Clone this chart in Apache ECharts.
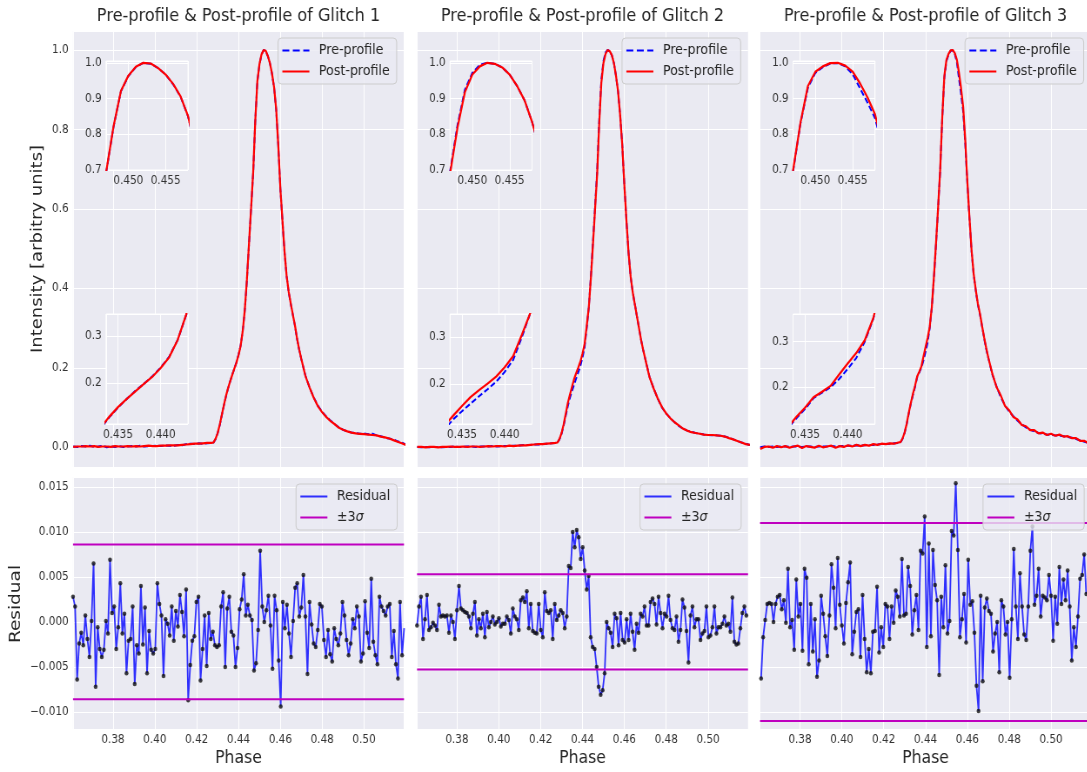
<!DOCTYPE html>
<html>
<head>
<meta charset="utf-8">
<script src="https://cdn.jsdelivr.net/npm/echarts@6/dist/echarts.min.js"></script>
<style>
  html, body { margin: 0; padding: 0; background: #fff; overflow: hidden; }
  #main { height: 772px; transform-origin: 0 0; }
</style>
</head>
<body>
<div id="main"></div>
<script>
'use strict';

// the original figure is squeezed horizontally, so we draw wider and scale
var S = 0.87;
function X(px) { return px / S; }

var BG = '#EAEAF2';
var FONT = 'DejaVu Sans';
var TXT = '#262626';
var MAG = '#bf00bf';

var TITLES = [
  'Pre-profile & Post-profile of Glitch 1',
  'Pre-profile & Post-profile of Glitch 2',
  'Pre-profile & Post-profile of Glitch 3'
];
var PANEL_LEFT = [73, 417, 760];
var PANEL_W = 331;

var X_RANGE = [0.3609, 0.5191];
var Y_TOP_RANGE = [-0.0496, 1.0478];
var Y_RES_RANGE = [-0.0119, 0.0161];
var INSET_HI_X = [0.447, 0.458];
var INSET_HI_Y = [0.7, 1.005];
var INSET_LO_X = [0.4336, 0.4432];
var INSET_LO_Y = [[0.1133, 0.3465], [0.1146, 0.3499], [0.1193, 0.3607]];

// phases where the profiles were read: coarse on the baseline, fine over the pulse
var PROF_PHASE = [].concat(steps(0.361, 0.427, 0.002), steps(0.428, 0.470, 0.001), steps(0.472, 0.520, 0.002));

var pre1 = [
  0.002,0.001,0.003,0.002,0.004,0.001,0.002,0.004,0.000,0.002,0.001,0.003,0.001,0.002,0.003,0.002,0.004,0.002,0.003,0.003,0.004,0.003,0.005,0.004,0.004,0.006,0.005,0.008,0.009,0.008,0.010,0.009,0.010,0.011,
  0.012,0.020,0.035,0.055,0.080,0.105,0.128,0.148,0.166,0.183,0.198,0.214,0.233,0.256,0.292,0.345,0.420,0.510,0.600,0.690,0.820,0.920,0.963,0.988,1.000,0.997,0.985,0.967,0.940,0.905,0.850,0.760,0.650,0.570,0.490,0.430,0.390,0.360,0.332,0.305,0.272,0.245,0.222,
  0.180,0.150,0.125,0.104,0.089,0.077,0.067,0.058,0.050,0.044,0.040,0.037,0.036,0.034,0.035,0.033,0.034,0.030,0.028,0.024,0.022,0.020,0.015,0.012,0.007
];
var post1 = [
  0.001,0.002,0.002,0.003,0.002,0.003,0.001,0.002,0.002,0.001,0.003,0.002,0.002,0.003,0.002,0.003,0.002,0.003,0.004,0.003,0.003,0.004,0.004,0.005,0.005,0.005,0.006,0.007,0.008,0.009,0.009,0.010,0.011,0.011,
  0.012,0.021,0.035,0.056,0.081,0.106,0.129,0.149,0.166,0.182,0.198,0.213,0.232,0.255,0.292,0.346,0.422,0.512,0.601,0.692,0.821,0.921,0.964,0.989,1.000,0.998,0.985,0.967,0.941,0.906,0.851,0.761,0.652,0.571,0.492,0.431,0.391,0.361,0.333,0.306,0.273,0.246,0.223,
  0.179,0.150,0.124,0.103,0.088,0.076,0.066,0.058,0.049,0.044,0.040,0.037,0.035,0.034,0.033,0.032,0.031,0.030,0.027,0.025,0.022,0.018,0.014,0.010,0.006
];
var pre2 = [
  0.001,0.000,0.001,0.000,0.001,0.001,0.000,0.001,0.001,0.002,0.001,0.001,0.002,0.002,0.001,0.002,0.002,0.002,0.003,0.002,0.003,0.003,0.003,0.004,0.004,0.005,0.006,0.006,0.007,0.007,0.008,0.009,0.010,0.011,
  0.012,0.020,0.034,0.055,0.080,0.104,0.125,0.142,0.158,0.174,0.189,0.205,0.226,0.252,0.300,0.352,0.430,0.518,0.607,0.695,0.825,0.925,0.972,0.994,1.000,0.997,0.987,0.967,0.935,0.895,0.835,0.760,0.660,0.570,0.490,0.430,0.390,0.360,0.330,0.300,0.270,0.245,0.222,
  0.178,0.148,0.122,0.100,0.085,0.073,0.063,0.054,0.047,0.042,0.039,0.036,0.034,0.032,0.031,0.030,0.030,0.029,0.027,0.024,0.020,0.016,0.012,0.009,0.006
];
var post2 = [
  0.001,0.001,0.000,0.001,0.001,0.000,0.001,0.001,0.002,0.001,0.001,0.002,0.001,0.002,0.002,0.001,0.002,0.003,0.002,0.003,0.003,0.002,0.004,0.003,0.004,0.005,0.005,0.006,0.007,0.008,0.008,0.009,0.010,0.011,
  0.012,0.021,0.036,0.058,0.085,0.112,0.133,0.153,0.172,0.187,0.201,0.216,0.236,0.260,0.305,0.352,0.426,0.512,0.600,0.689,0.818,0.918,0.967,0.990,1.000,0.997,0.987,0.967,0.935,0.895,0.835,0.760,0.660,0.570,0.490,0.430,0.390,0.360,0.330,0.300,0.270,0.245,0.222,
  0.177,0.148,0.122,0.101,0.085,0.073,0.063,0.055,0.047,0.042,0.038,0.036,0.034,0.032,0.031,0.031,0.030,0.029,0.027,0.023,0.020,0.016,0.012,0.008,0.006
];
var pre3 = [
  0.000,0.002,0.001,0.002,0.001,0.002,0.002,0.001,0.002,0.002,0.001,0.002,0.002,0.001,0.002,0.002,0.002,0.003,0.002,0.003,0.003,0.004,0.004,0.005,0.004,0.005,0.006,0.006,0.007,0.008,0.008,0.009,0.010,0.011,
  0.012,0.021,0.036,0.058,0.085,0.110,0.132,0.152,0.176,0.188,0.200,0.218,0.240,0.264,0.300,0.350,0.425,0.510,0.600,0.695,0.830,0.930,0.972,0.988,0.998,0.999,0.990,0.968,0.928,0.888,0.845,0.765,0.665,0.575,0.495,0.435,0.395,0.360,0.335,0.305,0.275,0.248,0.225,
  0.182,0.152,0.126,0.105,0.090,0.078,0.067,0.058,0.050,0.044,0.040,0.036,0.034,0.032,0.031,0.030,0.029,0.028,0.026,0.024,0.021,0.017,0.014,0.011,0.008
];
var post3 = [
  -0.004,0.001,0.002,-0.001,0.003,0.000,0.003,-0.001,0.002,0.004,-0.002,0.003,0.001,-0.001,0.004,0.000,0.002,0.004,-0.001,0.003,0.001,0.005,0.002,0.006,0.003,0.006,0.004,0.008,0.006,0.009,0.008,0.010,0.009,0.012,
  0.013,0.022,0.037,0.059,0.087,0.112,0.135,0.155,0.178,0.190,0.203,0.228,0.252,0.275,0.303,0.352,0.428,0.512,0.602,0.698,0.832,0.935,0.975,0.990,0.999,1.000,0.992,0.975,0.942,0.903,0.856,0.772,0.668,0.578,0.497,0.437,0.397,0.362,0.337,0.306,0.277,0.250,0.226,
  0.184,0.151,0.130,0.104,0.093,0.076,0.070,0.056,0.053,0.043,0.043,0.035,0.037,0.031,0.034,0.029,0.032,0.027,0.028,0.023,0.023,0.016,0.016,0.010,0.009
];
var PRE = [pre1, pre2, pre3];
var POST = [post1, post2, post3];

// residuals (post - pre), in units of 1e-3, one value per phase bin
var RES_START = [0.3609, 0.3609, 0.3614];
var RES_STEP = [0.000983, 0.000954, 0.00099];
var res1 = [
  2.8,1.7,-6.4,-2.4,-1.2,-2.6,0.7,-1.9,-3.9,0.1,6.5,-7.2,-0.6,-3.0,-3.9,-3.1,0.1,-1.3,6.9,1.0,1.7,-3.0,-0.6,4.3,-1.3,0.9,-5.7,-2.1,-1.9,1.7,
  -6.9,-2.6,-3.5,4.0,-2.5,1.6,-5.7,-1.0,-3.1,-3.5,-3.0,4.3,2.0,0.7,-6.0,0.3,-0.2,-1.5,1.7,-2.1,1.2,-0.5,3.0,1.1,-1.6,3.6,-8.7,-4.8,-2.1,-1.6,
  2.2,2.8,-6.5,-3.0,0.7,-4.9,1.0,-1.9,-1.1,-2.6,-2.8,-2.6,1.7,3.3,-5.0,1.5,2.8,-1.1,-1.5,-5.0,-2.9,1.4,2.5,5.3,0.7,1.9,0.7,0.2,-5.4,-4.6,
  -0.9,7.9,1.7,0.0,1.3,2.9,-0.4,-5.2,2.9,1.3,-4.3,-9.4,2.2,-0.7,1.9,-1.3,-3.9,0.1,3.8,4.3,0.6,1.6,5.2,0.6,-5.8,2.2,-0.3,-2.4,-2.8,-0.9,
  2.0,1.7,-2.0,-3.9,-0.9,-3.6,-4.4,-0.7,-1.9,-2.6,-1.3,2.2,0.7,-2.0,-3.7,-2.4,0.3,-0.7,1.7,0.6,-4.4,-3.5,2.3,-1.2,-2.9,4.8,-2.2,-3.7,-4.7,2.8,
  1.7,1.2,0.7,1.7,2.0,-3.9,-1.0,-4.7,-6.3,2.2,-3.7,-0.7
];
var res2 = [
  -0.4,1.7,2.8,-1.9,0.3,3.0,-0.9,-0.6,-0.1,-0.4,-0.9,1.9,0.6,0.7,0.6,0.7,-1.2,0.7,0.0,-1.9,1.3,4.0,1.5,1.3,1.1,1.0,0.6,-0.7,0.9,2.2,
  -1.5,0.3,-0.7,0.9,-1.7,1.1,-0.6,0.0,0.6,-0.3,0.0,0.4,-0.5,-0.2,-0.2,0.6,0.2,-1.3,1.5,0.6,0.3,-0.9,2.4,2.7,2.2,3.4,-0.7,2.0,-1.0,-1.2,
  -1.3,2.0,-0.9,-1.7,3.3,1.2,1.0,1.3,-1.9,2.0,0.2,0.7,1.3,1.0,-0.7,0.6,6.2,6.0,10.0,8.3,10.2,9.4,7.0,8.3,5.7,3.6,5.1,-1.7,-2.8,-3.0,
  -5.0,-7.2,-8.1,-7.6,-5.7,0.0,-0.7,-1.2,-2.8,0.9,0.4,-2.6,1.0,-2.0,-2.3,0.3,-2.0,0.9,-1.1,-3.1,-0.2,-1.2,0.9,0.6,1.7,-0.4,-0.4,2.2,2.6,2.0,
  -0.3,2.8,1.0,-0.7,0.9,0.6,2.9,0.2,-0.7,-0.9,0.6,-2.2,-0.9,2.5,1.6,-1.0,-4.5,0.7,1.7,-0.6,0.3,0.3,-2.0,-1.3,-1.0,1.7,-1.7,-1.5,-0.6,1.7,
  -1.3,-0.6,-0.6,-0.2,0.6,-0.4,-0.2,-1.1,2.7,-2.2,-2.5,-2.4,-0.7,1.0,1.7,0.7
];
var res3 = [
  -6.3,-1.7,0.2,2.0,2.1,2.0,0.0,2.0,2.8,3.0,1.4,2.4,-0.1,5.9,-0.6,0.2,-3.1,4.7,0.6,2.0,-3.2,5.9,4.9,-4.7,2.0,-3.3,0.3,-6.1,-4.3,2.9,
  0.9,-1.6,-3.8,0.7,6.4,3.8,-0.7,7.1,1.9,-0.4,-2.4,2.1,4.4,6.6,-3.6,-1.1,1.1,1.4,-3.9,3.0,-1.9,-5.6,-3.0,-5.7,-1.1,-1.0,3.9,-3.4,-0.6,-2.8,
  2.0,1.7,-1.9,1.7,-0.1,3.5,2.8,0.6,7.0,0.7,0.9,6.1,4.0,-1.4,1.3,3.0,-0.9,7.9,7.6,11.7,-2.8,8.7,-1.6,8.0,4.1,2.4,-5.9,2.8,-0.6,6.3,
  -1.3,0.1,10.1,9.6,15.4,8.0,-1.7,0.3,3.1,-2.3,6.9,1.9,2.3,-1.2,-7.1,-9.9,2.9,-6.6,1.6,2.6,1.2,0.9,-3.3,-1.3,0.0,-5.6,2.4,1.7,-1.4,0.0,
  -6.2,0.3,8.1,1.7,-1.9,5.4,1.7,-1.4,-2.0,1.7,7.9,10.6,1.9,2.9,5.9,0.6,2.9,2.7,2.4,5.2,2.9,-2.1,2.8,-0.2,6.1,2.0,4.7,2.4,5.7,1.7,
  -4.3,-0.6,-2.8,0.6,4.8,5.2,7.5,3.1
];
var RES = [res1, res2, res3];
var SIGMA3 = [0.0086, 0.0053, 0.0110];

function steps(a, b, d) {
  var out = [];
  var n = Math.round((b - a) / d);
  for (var i = 0; i <= n; i++) out.push(+(a + i * d).toFixed(4));
  return out;
}
function pairs(xs, ys) {
  return ys.map(function (y, i) { return [xs[i], y]; });
}
function onStep(v, step) {
  var k = v / step;
  return Math.abs(k - Math.round(k)) < 1e-6;
}
function fmt(step, digits) {
  return function (v) {
    if (!onStep(v, step)) return '';
    if (Math.abs(v) < 1e-12) v = 0;
    var s = v.toFixed(digits);
    return v < 0 ? '\u2212' + s.slice(1) : s;
  };
}

function valAxis(gi, range, split, z, labels, formatter, pos) {
  return {
    type: 'value', gridIndex: gi, min: range[0], max: range[1], splitNumber: split,
    position: pos, z: z,
    axisLine: { show: false }, axisTick: { show: false },
    axisLabel: {
      show: labels, formatter: formatter, margin: 5,
      color: '#333', fontFamily: FONT, fontSize: 12
    },
    splitLine: { show: true, lineStyle: { color: '#ffffff', width: 1 } }
  };
}

var grids = [], xAxes = [], yAxes = [], series = [], legends = [], graphics = [];

function addGrid(g, xa, ya) {
  var gi = grids.length;
  g.outerBoundsMode = 'none';
  g.containLabel = false;
  grids.push(g);
  xa.gridIndex = gi; ya.gridIndex = gi;
  xAxes.push(xa); yAxes.push(ya);
  return gi;
}

function profileSeries(gi, p, z) {
  series.push({
    type: 'line', name: 'Pre-profile', xAxisIndex: gi, yAxisIndex: gi,
    data: pairs(PROF_PHASE, PRE[p]), symbol: 'none', showSymbol: false, z: z,
    lineStyle: { color: '#0000ff', width: 2, type: [6, 3] }, itemStyle: { color: '#0000ff' }
  });
  series.push({
    type: 'line', name: 'Post-profile', xAxisIndex: gi, yAxisIndex: gi,
    data: pairs(PROF_PHASE, POST[p]), symbol: 'none', showSymbol: false, z: z + 1,
    lineStyle: { color: '#ff0000', width: 2.2 }, itemStyle: { color: '#ff0000' }
  });
}

// legend icons drawn as plain line glyphs (dashed / solid)
var ICON_DASH = 'path://M0,0h8v2h-8z M12,0h8v2h-8z M24,0h7v2h-7z';
var ICON_LINE = 'path://M0,0h31v2h-31z';

var legendBox = {
  orient: 'vertical', itemWidth: X(27), itemHeight: 2, itemGap: 6,
  symbolKeepAspect: false,
  padding: [5, 8, 5, 5], backgroundColor: 'rgba(234,234,242,0.8)',
  borderColor: '#cccccc', borderWidth: 1, borderRadius: 4, z: 20,
  selectedMode: false,
  textStyle: {
    fontFamily: FONT, fontSize: 14.5, color: TXT, padding: [0, 0, 0, 6],
    rich: {
      n: { fontFamily: FONT, fontSize: 14.5, color: TXT },
      s: { fontFamily: FONT, fontSize: 14.5, color: TXT, fontStyle: 'italic' }
    }
  },
  formatter: function (name) { return name === '±3σ' ? '{n|±3}{s|σ}' : name; }
};

PANEL_LEFT.forEach(function (L, p) {
  // main profile panel
  var gi = addGrid(
    { left: X(L), top: 31, width: X(PANEL_W), height: 436, show: true, backgroundColor: BG, borderWidth: 0, z: 0 },
    valAxis(0, X_RANGE, 8, 0, false, null, 'bottom'),
    valAxis(0, Y_TOP_RANGE, 5, 0, p === 0, fmt(0.2, 1), 'left')
  );
  profileSeries(gi, p, 2);

  // upper inset: the peak
  gi = addGrid(
    { left: X(L + 33), top: 61, width: X(82), height: 109, show: true, backgroundColor: BG, borderColor: '#ffffff', borderWidth: 1, z: 10 },
    valAxis(0, INSET_HI_X, 2, 10, true, fmt(0.005, 3), 'bottom'),
    valAxis(0, INSET_HI_Y, 3, 10, true, fmt(0.1, 1), 'left')
  );
  profileSeries(gi, p, 11);

  // lower inset: the leading shoulder
  gi = addGrid(
    { left: X(L + 33), top: 314, width: X(82), height: 110, show: true, backgroundColor: BG, borderColor: '#ffffff', borderWidth: 1, z: 10 },
    valAxis(0, INSET_LO_X, 2, 10, true, fmt(0.005, 3), 'bottom'),
    valAxis(0, INSET_LO_Y[p], 2, 10, true, fmt(0.1, 1), 'left')
  );
  profileSeries(gi, p, 11);

  // residual panel
  gi = addGrid(
    { left: X(L), top: 477, width: X(PANEL_W), height: 252, show: true, backgroundColor: BG, borderWidth: 0, z: 0 },
    valAxis(0, X_RANGE, 8, 0, true, fmt(0.02, 2), 'bottom'),
    valAxis(0, Y_RES_RANGE, 5, 0, p === 0, fmt(0.005, 3), 'left')
  );
  var resData = RES[p].map(function (v, i) { return [RES_START[p] + i * RES_STEP[p], v * 1e-3]; });
  series.push({
    type: 'line', name: 'Residual', xAxisIndex: gi, yAxisIndex: gi, data: resData,
    symbol: 'none', showSymbol: false, z: 3,
    lineStyle: { color: 'rgba(0,0,255,0.8)', width: 1.8 }, itemStyle: { color: 'rgba(0,0,255,0.8)' }
  });
  series.push({
    type: 'scatter', name: 'points', xAxisIndex: gi, yAxisIndex: gi, data: resData,
    symbolSize: 4.5, z: 4, itemStyle: { color: '#111111' }
  });
  // +3 sigma and -3 sigma, spanning the whole phase axis
  [1, -1].forEach(function (sgn) {
    series.push({
      type: 'line', name: '±3σ', xAxisIndex: gi, yAxisIndex: gi,
      data: X_RANGE.map(function (x) { return [x, sgn * SIGMA3[p]]; }),
      symbol: 'none', showSymbol: false, z: 5,
      lineStyle: { color: MAG, width: 2 }, itemStyle: { color: MAG }
    });
  });

  legends.push(Object.assign({}, legendBox, {
    left: X(L + 205), top: 38,
    data: [{ name: 'Pre-profile', icon: ICON_DASH }, { name: 'Post-profile', icon: ICON_LINE }]
  }));
  legends.push(Object.assign({}, legendBox, {
    left: X(L + 223), top: 484,
    data: [{ name: 'Residual', icon: ICON_LINE }, { name: '±3σ', icon: ICON_LINE }]
  }));

  graphics.push({
    type: 'text', x: X(L + PANEL_W / 2), y: 16, z: 30,
    style: { text: TITLES[p], fontFamily: FONT, fontSize: 18.5, fill: TXT, textAlign: 'center', textVerticalAlign: 'middle' }
  });
  graphics.push({
    type: 'text', x: X(L + PANEL_W / 2), y: 758, z: 30,
    style: { text: 'Phase', fontFamily: FONT, fontSize: 18, fill: TXT, textAlign: 'center', textVerticalAlign: 'middle' }
  });
});

graphics.push({
  type: 'text', x: X(38), y: 249, rotation: Math.PI / 2, z: 30,
  style: { text: 'Intensity [arbitry units]', fontFamily: FONT, fontSize: 18, fill: TXT, textAlign: 'center', textVerticalAlign: 'middle' }
});
graphics.push({
  type: 'text', x: X(16), y: 604, rotation: Math.PI / 2, z: 30,
  style: { text: 'Residual', fontFamily: FONT, fontSize: 18.5, fill: TXT, textAlign: 'center', textVerticalAlign: 'middle' }
});

var el = document.getElementById('main');
el.style.width = Math.ceil(X(1100)) + 'px';
el.style.transform = 'scaleX(' + S + ')';

var chart = echarts.init(el, null, { renderer: 'canvas' });
chart.setOption({
  animation: false,
  backgroundColor: '#ffffff',
  textStyle: { fontFamily: FONT },
  grid: grids,
  xAxis: xAxes,
  yAxis: yAxes,
  legend: legends,
  graphic: graphics,
  series: series
});
</script>
</body>
</html>
